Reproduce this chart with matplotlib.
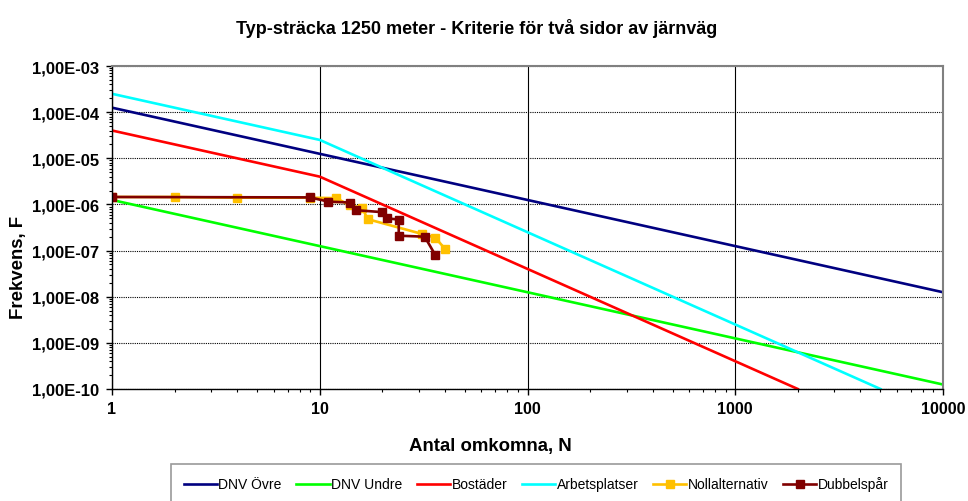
import numpy as np
import matplotlib.pyplot as plt
from matplotlib.ticker import FuncFormatter, LogLocator, NullFormatter

plt.rcParams['font.family'] = ['Liberation Sans', 'DejaVu Sans']

# criterion lines (breakpoints)
dnv_ovre_n = [1, 10000]
dnv_ovre_f = [1.25e-4, 1.25e-8]
dnv_undre_n = [1, 10000]
dnv_undre_f = [1.25e-6, 1.25e-10]
bostader_n = [1, 10, 2000]
bostader_f = [4e-5, 4e-6, 1e-10]
arbets_n = [1, 10, 5000]
arbets_f = [2.5e-4, 2.5e-5, 1e-10]

# F-N curves
noll_n = [1, 2, 4, 9, 12, 14, 16, 17, 31, 36, 40]
noll_f = [1.45e-6, 1.45e-6, 1.4e-6, 1.4e-6, 1.37e-6, 9.5e-7, 8.5e-7, 4.8e-7,
          2.3e-7, 1.9e-7, 1.1e-7]
dubbel_n = [1, 9, 11, 14, 15, 20, 21, 24, 24, 32, 36]
dubbel_f = [1.45e-6, 1.42e-6, 1.15e-6, 1.1e-6, 7.5e-7, 6.8e-7, 5e-7, 4.7e-7,
            2.1e-7, 2.0e-7, 8e-8]

fig = plt.figure(figsize=(9.68, 5.02), dpi=100)
ax = fig.add_axes([112/968, 1 - 390/502, (943 - 112)/968, (390 - 67)/502])

lw = 1.9
ax.plot(dnv_ovre_n, dnv_ovre_f, color='#000080', lw=lw, label='DNV Övre')
ax.plot(dnv_undre_n, dnv_undre_f, color='#00FF00', lw=lw, label='DNV Undre')
ax.plot(bostader_n, bostader_f, color='#FF0000', lw=lw, label='Bostäder')
ax.plot(arbets_n, arbets_f, color='#00FFFF', lw=lw, label='Arbetsplatser')
ax.plot(noll_n, noll_f, color='#FFC000', lw=lw, marker='s', ms=5.5,
        label='Nollalternativ')
ax.plot(dubbel_n, dubbel_f, color='#800000', lw=lw, marker='s', ms=5.5,
        label='Dubbelspår')

ax.set_xscale('log')
ax.set_yscale('log')
ax.set_xlim(1, 10000)
ax.set_ylim(1e-10, 1e-3)

ax.yaxis.set_major_locator(LogLocator(base=10, numticks=20))
ax.yaxis.set_minor_locator(LogLocator(base=10, subs=np.arange(2, 10), numticks=20))
ax.yaxis.set_minor_formatter(NullFormatter())
ax.yaxis.set_major_formatter(FuncFormatter(lambda v, p: f'{v:.2E}'.replace('.', ',')))
ax.xaxis.set_major_locator(LogLocator(base=10, numticks=20))
ax.xaxis.set_minor_locator(LogLocator(base=10, subs=np.arange(2, 10), numticks=20))
ax.xaxis.set_minor_formatter(NullFormatter())
ax.xaxis.set_major_formatter(FuncFormatter(lambda v, p: f'{int(round(v))}'))

ax.grid(True, which='major', axis='y', color='black', ls=(0, (1, 1)), lw=0.8)
ax.grid(True, which='major', axis='x', color='black', ls='-', lw=0.8)
ax.set_axisbelow(True)

ax.tick_params(which='major', direction='out', length=4, width=1, pad=5)
ax.tick_params(which='minor', direction='out', length=2.5, width=0.8)
ax.tick_params(axis='y', which='major', labelsize=12)
ax.tick_params(axis='x', which='major', labelsize=11.5)
for lab in ax.get_xticklabels() + ax.get_yticklabels():
    lab.set_fontweight('bold')

for s in ['top', 'right']:
    ax.spines[s].set_color('#808080')
    ax.spines[s].set_linewidth(1.5)
for s in ['left', 'bottom']:
    ax.spines[s].set_color('black')
    ax.spines[s].set_linewidth(1)

fig.text(477/968, 1 - 28/502, 'Typ-sträcka 1250 meter - Kriterie för två sidor av järnväg',
         ha='center', va='center', fontsize=13, fontweight='bold')
fig.text(490/968, 1 - 447/502, 'Antal omkomna, N', ha='center', va='center',
         fontsize=13.4, fontweight='bold')
fig.text(19/968, 1 - 267/502, 'Frekvens, F', ha='center', va='center',
         rotation=90, fontsize=13.4, fontweight='bold')

leg = fig.legend(loc='upper left', bbox_to_anchor=(171/968, 1 - 465/502),
                 ncol=6, fontsize=10, frameon=True, fancybox=False,
                 handlelength=2.4, handletextpad=0.1, columnspacing=1.05,
                 borderpad=0.9, borderaxespad=0)
leg.get_frame().set_edgecolor('#808080')
leg.get_frame().set_linewidth(1.2)

fig.savefig('out.png', dpi=100)
